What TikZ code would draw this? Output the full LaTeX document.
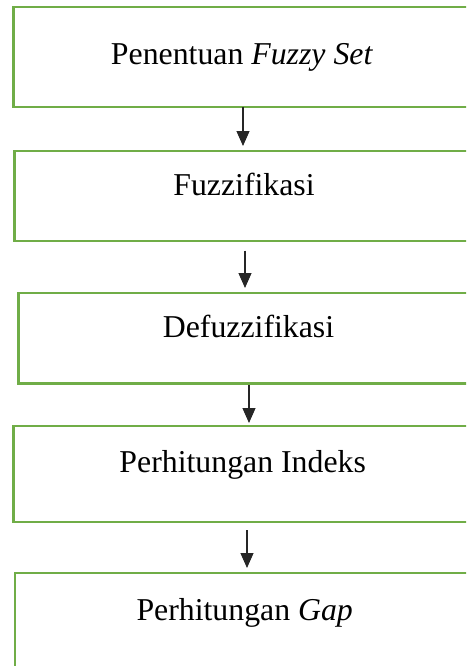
\documentclass[tikz,border=0pt]{standalone}
\usepackage{fontspec}
\setmainfont{Liberation Serif}
\usetikzlibrary{arrows.meta}
\definecolor{boxgreen}{RGB}{112,173,71}
\begin{document}
\begin{tikzpicture}[x=1pt,y=-1pt,
  box/.style={draw=boxgreen, line width=2.5pt, rectangle, outer sep=0pt, inner sep=0pt, anchor=north west, minimum width=480pt},
  lbl/.style={anchor=base, inner sep=0pt, font=\fontsize{31.8}{38}\selectfont},
  arr/.style={line width=1.1pt, draw=black!85, -{Triangle[width=13pt,length=15pt]}}]
\useasboundingbox (0,0) rectangle (466,666);
\clip (0,0) rectangle (466,666);
\node[box, minimum height=100.2pt] (b1) at (13.5,6.8) {};
\node[box, minimum height=90pt] (b2) at (14.5,151) {};
\node[box, minimum height=90.5pt] (b3) at (18.7,293) {};
\node[box, minimum height=96pt] (b4) at (13.5,426) {};
\node[box, minimum height=130pt] (b5) at (15,573) {};
\node[lbl] (t1) at (242,65) {Penentuan \textit{Fuzzy Set}};
\node[lbl] (t2) at (244,195) {Fuzzifikasi};
\node[lbl] (t3) at (248.5,337.7) {Defuzzifikasi};
\node[lbl] (t4) at (242.7,472.7) {Perhitungan Indeks};
\node[lbl] (t5) at (244.7,620) {Perhitungan \textit{Gap}};
\coordinate (x1) at (243,0);
\coordinate (x2) at (245,0);
\coordinate (x3) at (249,0);
\coordinate (x4) at (247,0);
\draw[arr, shorten >=5pt] (b1.south -| x1) -- (b2.north -| x1);
\draw[arr, shorten <=9.5pt, shorten >=5pt] (b2.south -| x2) -- (b3.north -| x2);
\draw[arr, shorten <=1.5pt, shorten >=3pt] (b3.south -| x3) -- (b4.north -| x3);
\draw[arr, shorten <=8pt, shorten >=5pt] (b4.south -| x4) -- (b5.north -| x4);
\end{tikzpicture}
\end{document}
